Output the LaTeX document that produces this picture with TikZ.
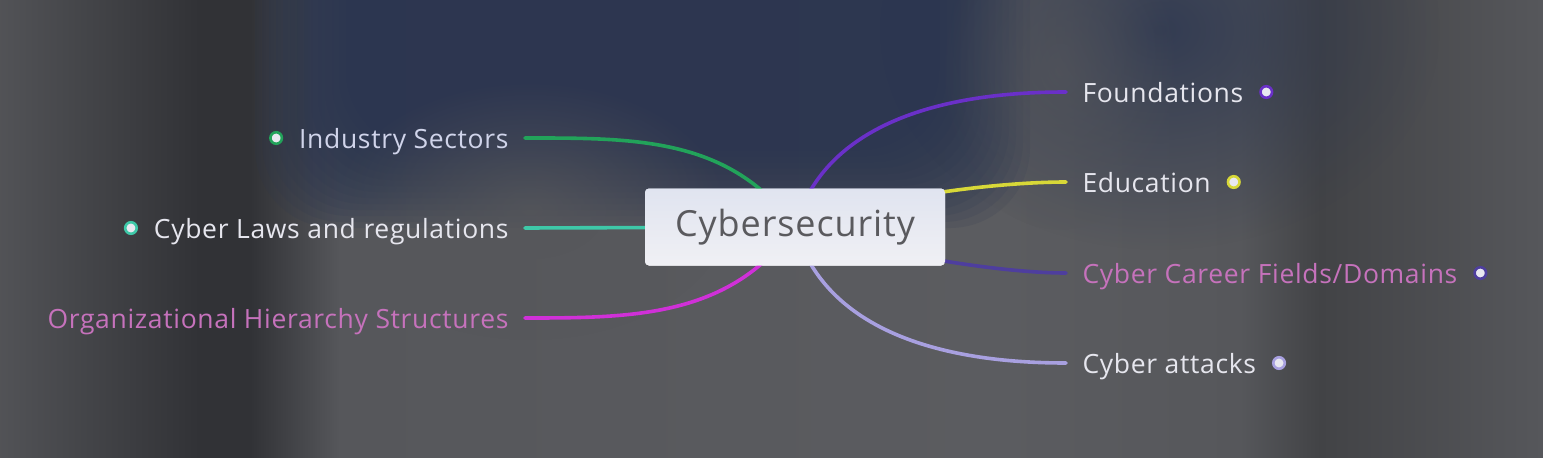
\documentclass[tikz,border=0pt]{standalone}
\usepackage{fontspec}
\setmainfont{Open Sans}
\newfontfamily\lblfont[LetterSpace=2.5]{Open Sans}
\usetikzlibrary{fadings}
\definecolor{bgbase}{HTML}{56575B}
\definecolor{bgdark}{HTML}{313236}
\definecolor{bgright}{HTML}{424346}
\definecolor{navy}{HTML}{2A3550}
\definecolor{cgreen}{HTML}{22A35A}
\definecolor{cteal}{HTML}{3EC8A8}
\definecolor{cmag}{HTML}{D030D8}
\definecolor{cpurple}{HTML}{6A30C8}
\definecolor{cyellow}{HTML}{D8D838}
\definecolor{ccareer}{HTML}{4E3E9E}
\definecolor{cattack}{HTML}{A8A0E0}
\definecolor{txtlight}{HTML}{E6E6EE}
\definecolor{txtblue}{HTML}{D0D4EA}
\definecolor{txtpink}{HTML}{C672BC}
\definecolor{roottop}{HTML}{E0E4F0}
\definecolor{rootbot}{HTML}{F0F0F4}
\definecolor{roottext}{HTML}{5A5A5E}
\definecolor{dotfill}{HTML}{E8E8F0}
\tikzfading[name=blob, inner color=transparent!0, outer color=transparent!100]
\tikzset{
  rootbox/.style={rectangle, rounded corners=4pt, top color=roottop, bottom color=rootbot, minimum width=300pt, minimum height=77pt, inner sep=0pt, text=roottext, font=\lblfont\fontsize{36}{40}\selectfont},
  lbl/.style={inner sep=0pt, outer xsep=16.5pt, text height=20pt, text depth=0pt, font=\lblfont\fontsize{26.5}{30}\selectfont},
  conn/.style={line width=3.6pt, line cap=round},
  bullet/.style={circle, fill=dotfill, draw=#1, line width=2.6pt, minimum size=11.5pt, inner sep=0pt}
}
\begin{document}
\begin{tikzpicture}[x=1pt,y=-1pt]
\useasboundingbox (0,0) rectangle (1543,458);
% background
\fill[bgbase] (0,0) rectangle (1543,458);
\shade[left color=bgbase!95!black, right color=bgdark] (0,0) rectangle (200,458);
\shade[left color=bgdark, right color=bgdark] (200,0) rectangle (250,458);
\shade[left color=bgdark, right color=bgbase] (250,0) rectangle (340,458);
\shade[left color=bgbase, right color=bgbase!97!white] (340,0) rectangle (1000,458);
\shade[left color=bgbase!97!white, right color=bgbase] (1000,0) rectangle (1240,458);
\shade[left color=bgbase, right color=bgright] (1240,0) rectangle (1320,458);
\shade[left color=bgright, right color=bgbase] (1320,0) rectangle (1543,458);
\foreach \i in {0,...,13} {
  \fill[navy, fill opacity=0.14, rounded corners=80pt] ({255+7*\i},-80) rectangle ({1030-7*\i},{228-6*\i});
}
\fill[navy, path fading=blob, opacity=0.8] (1160,30) ellipse [x radius=280, y radius=220];
\fill[bgbase, path fading=blob, opacity=0.8] (530,210) ellipse [x radius=200, y radius=130];
\fill[bgbase, path fading=blob, opacity=0.6] (1060,70) ellipse [x radius=120, y radius=160];

% nodes
\node[rootbox] (root) at (795,227) {Cybersecurity};
\node[lbl, text=txtblue, anchor=east] (ind) at (525,138) {Industry Sectors};
\node[lbl, text=txtlight, anchor=east] (law) at (525,228) {Cyber Laws and regulations};
\node[lbl, text=txtpink, anchor=east] (org) at (525,318) {Organizational Hierarchy Structures};
\node[lbl, text=txtlight, anchor=west] (fou) at (1066,92) {Foundations};
\node[lbl, text=txtlight, anchor=west] (edu) at (1066,182) {Education};
\node[lbl, text=txtpink, anchor=west] (car) at (1066,273) {Cyber Career Fields/Domains};
\node[lbl, text=txtlight, anchor=west] (att) at (1066,363) {Cyber attacks};

% connectors (drawn to the centre, then covered by the root box)
\draw[conn, cgreen] (ind.east) .. controls +(110,0) and +(-65,-90) .. (root.center);
\draw[conn, cteal] (law.east) -- (root.center);
\draw[conn, cmag] (org.east) .. controls +(110,0) and +(-65,90) .. (root.center);
\draw[conn, cpurple] (fou.west) .. controls +(-150,0) and +(25,-90) .. (root.center);
\draw[conn, cyellow] (edu.west) .. controls +(-70,0) and +(80,-30) .. (root.center);
\draw[conn, ccareer] (car.west) .. controls +(-70,0) and +(80,25) .. (root.center);
\draw[conn, cattack] (att.west) .. controls +(-150,0) and +(25,90) .. (root.center);
\node[rootbox] at (root.center) {Cybersecurity};

% bullets
\node[bullet=cgreen] (dind) at ([xshift=-6.5pt]ind.west) {};
\node[bullet=cteal] (dlaw) at ([xshift=-6.5pt]law.west) {};
\node[bullet=cpurple] (dfou) at ([xshift=6.5pt]fou.east) {};
\node[bullet=cyellow] (dedu) at ([xshift=6.5pt]edu.east) {};
\node[bullet=ccareer] (dcar) at ([xshift=6.5pt]car.east) {};
\node[bullet=cattack] (datt) at ([xshift=6.5pt]att.east) {};
\end{tikzpicture}
\end{document}
